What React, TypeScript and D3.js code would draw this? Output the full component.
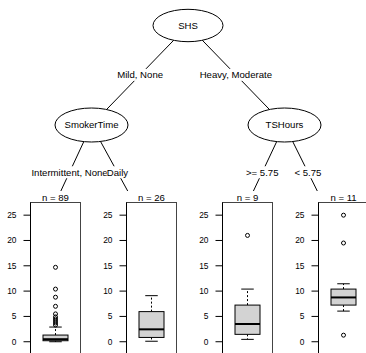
import React from "react";
import * as d3 from "d3";

// tree content
const innerNodes = ["SHS", "SmokerTime", "TSHours"];
const splitLabels = ["Mild, None", "Heavy, Moderate", "Intermittent, None", "Daily", ">= 5.75", "< 5.75"];
const nodeSizes = [89, 26, 9, 11];

// boxplot stats per terminal node
const whiskerLow = [0, 0.1, 0.47, 6.05];
const q1 = [0.2, 0.85, 1.46, 7.24];
const medians = [0.5, 2.45, 3.5, 8.75];
const q3 = [1.32, 5.95, 7.24, 10.4];
const whiskerHigh = [2.9, 9.1, 10.4, 11.45];
const outliers = [
  [14.7, 10.4, 8.8, 7.0, 5.5, 4.9, 4.5, 4.1, 3.7, 3.3],
  [],
  [21.0],
  [25.0, 19.5, 1.3],
];
const yTicks = [0, 5, 10, 15, 20, 25];

const width = 366;
const height = 353;
const font = "'Liberation Sans', Arial, Helvetica, sans-serif";
const fs = 9.6;

// layout of the tree (pixels)
const inner = [
  { cx: 188, cy: 25.5, rx: 35, ry: 16.2 },
  { cx: 91.5, cy: 125, rx: 36.5, ry: 17 },
  { cx: 284.5, cy: 125, rx: 36.5, ry: 17 },
];
const panelTop = 202.5;
const panelW = 50;
const edgeEnds = [55.5, 134, 248, 323];

// edges: parent inner index, child (inner index or terminal index), label index
const edges = [
  { p: 0, c: 1, term: false, l: 0 },
  { p: 0, c: 2, term: false, l: 1 },
  { p: 1, c: 0, term: true, l: 2 },
  { p: 1, c: 1, term: true, l: 3 },
  { p: 2, c: 2, term: true, l: 4 },
  { p: 2, c: 3, term: true, l: 5 },
];

const EdgeLabel = ({ x, y, text }: { x: number; y: number; text: string }) => {
  const ref = React.useRef<SVGTextElement>(null);
  const [w, setW] = React.useState(0);
  React.useEffect(() => {
    if (ref.current) setW(ref.current.getComputedTextLength());
  }, [text]);
  return (
    <g>
      <rect x={x - w / 2} y={y - 6} width={w} height={12} fill="white" />
      <text ref={ref} x={x} y={y} dy="0.35em" textAnchor="middle" fontSize={fs}>
        {text}
      </text>
    </g>
  );
};

const App = () => {
  const x = d3.scalePoint<number>().domain([0, 1, 2, 3]).range([55.5, 343.5]);
  const y = d3.scaleLinear().domain([-2.5, 27.5]).range([354.4, panelTop]);

  const edgeGeo = edges.map((e) => {
    const p = inner[e.p];
    let x2, y2, top;
    if (e.term) {
      x2 = edgeEnds[e.c];
      y2 = panelTop;
      top = panelTop;
    } else {
      x2 = inner[e.c].cx;
      y2 = inner[e.c].cy;
      top = inner[e.c].cy - inner[e.c].ry;
    }
    // label sits on the edge, halfway between parent bottom and child top
    const ly = (p.cy + p.ry + top) / 2;
    const t = (ly - p.cy) / (y2 - p.cy);
    const lx = p.cx + (x2 - p.cx) * t;
    return { x1: p.cx, y1: p.cy, x2, y2, lx, ly, text: splitLabels[e.l] };
  });

  return (
    <svg
      width={width}
      height={height}
      style={{ position: "absolute", left: 0, top: 0, background: "white" }}
      fontFamily={font}
    >
      {edgeGeo.map((g, i) => (
        <line key={"e" + i} x1={g.x1} y1={g.y1} x2={g.x2} y2={g.y2} stroke="black" strokeWidth={1} />
      ))}
      {inner.map((n, i) => (
        <g key={"n" + i}>
          <ellipse cx={n.cx} cy={n.cy} rx={n.rx} ry={n.ry} fill="white" stroke="black" strokeWidth={1} />
          <text x={n.cx} y={n.cy} dy="0.35em" textAnchor="middle" fontSize={fs}>
            {innerNodes[i]}
          </text>
        </g>
      ))}
      {edgeGeo.map((g, i) => (
        <EdgeLabel key={"l" + i} x={g.lx} y={g.ly} text={g.text} />
      ))}
      {nodeSizes.map((n, i) => {
        const cx = x(i)!;
        const left = cx - panelW / 2;
        const bw = panelW * 0.5;
        const cw = panelW * 0.25;
        return (
          <g key={"t" + i}>
            <rect x={left - 26} y={191} width={panelW + 26} height={height} fill="white" />
            <text x={cx} y={200.5} textAnchor="middle" fontSize={fs}>
              {`n = ${n}`}
            </text>
            <rect x={left} y={panelTop} width={panelW} height={y(-2.5) - panelTop} fill="white" stroke="#444" strokeWidth={1} />
            <line x1={left} x2={left} y1={panelTop} y2={y(-2.5)} stroke="black" />
            {yTicks.map((t) => (
              <g key={t}>
                <line x1={left - 7} x2={left} y1={y(t)} y2={y(t)} stroke="black" />
                <text x={left - 14} y={y(t)} dy="0.35em" textAnchor="end" fontSize={8.4}>
                  {t}
                </text>
              </g>
            ))}
            <line x1={cx} x2={cx} y1={y(q3[i])} y2={y(whiskerHigh[i])} stroke="black" strokeDasharray="2,2" />
            <line x1={cx} x2={cx} y1={y(q1[i])} y2={y(whiskerLow[i])} stroke="black" strokeDasharray="2,2" />
            <line x1={cx - cw / 2} x2={cx + cw / 2} y1={y(whiskerHigh[i])} y2={y(whiskerHigh[i])} stroke="black" />
            <line x1={cx - cw / 2} x2={cx + cw / 2} y1={y(whiskerLow[i])} y2={y(whiskerLow[i])} stroke="black" />
            <rect
              x={cx - bw / 2}
              y={y(q3[i])}
              width={bw}
              height={y(q1[i]) - y(q3[i])}
              fill="#d3d3d3"
              stroke="black"
            />
            <line x1={cx - bw / 2} x2={cx + bw / 2} y1={y(medians[i])} y2={y(medians[i])} stroke="black" strokeWidth={2} />
            {outliers[i].map((o, j) => (
              <circle key={j} cx={cx} cy={y(o)} r={2} fill="none" stroke="black" strokeWidth={1} />
            ))}
          </g>
        );
      })}
    </svg>
  );
};

export default App;
